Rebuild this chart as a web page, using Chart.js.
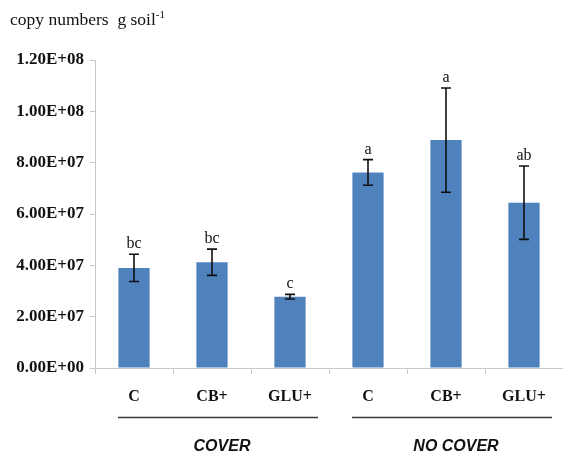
<!DOCTYPE html>
<html>
<head>
<meta charset="utf-8">
<script src="https://cdn.jsdelivr.net/npm/chart.js@4/dist/chart.umd.min.js"></script>
<style>
  html, body { margin: 0; padding: 0; background: #fff; }
  #wrap { position: relative; width: 563px; height: 455px; }
</style>
</head>
<body>
<div id="wrap"><canvas id="c" width="563" height="455"></canvas></div>
<script>
// Treatments on the x axis, grouped by soil cover
const categories = ['C', 'CB+', 'GLU+', 'C', 'CB+', 'GLU+'];
const groups = [
  { name: 'COVER', first: 0, last: 2 },
  { name: 'NO COVER', first: 3, last: 5 }
];
// Mean gene copy numbers per gram of soil and their standard errors
const copyNumbers = [3.90e7, 4.12e7, 2.78e7, 7.62e7, 8.88e7, 6.44e7];
const errors = [0.53e7, 0.51e7, 0.09e7, 0.50e7, 2.03e7, 1.43e7];
// Significance letters above each bar
const letters = ['bc', 'bc', 'c', 'a', 'a', 'ab'];
// Y axis tick labels, from 0 upwards
const yTickLabels = ['0.00E+00', '2.00E+07', '4.00E+07', '6.00E+07', '8.00E+07', '1.00E+08', '1.20E+08'];

const SERIF = '"Liberation Serif", "Times New Roman", serif';
const SANS = '"Liberation Sans", Arial, sans-serif';

const overlay = {
  id: 'overlay',
  afterDatasetsDraw(chart) {
    const ctx = chart.ctx;
    const x = chart.scales.x, y = chart.scales.y;
    ctx.save();
    // error bars and letters
    copyNumbers.forEach((v, i) => {
      const px = x.getPixelForValue(i);
      const top = y.getPixelForValue(v + errors[i]);
      const bot = y.getPixelForValue(v - errors[i]);
      ctx.strokeStyle = '#111';
      ctx.lineWidth = 1.6;
      ctx.beginPath();
      ctx.moveTo(px, top); ctx.lineTo(px, bot);
      ctx.moveTo(px - 5, top); ctx.lineTo(px + 5, top);
      ctx.moveTo(px - 5, bot); ctx.lineTo(px + 5, bot);
      ctx.stroke();
      ctx.fillStyle = '#111';
      ctx.font = '16px ' + SERIF;
      ctx.textAlign = 'center';
      ctx.textBaseline = 'alphabetic';
      ctx.fillText(letters[i], px, top - 6);
    });
    // group underlines and names
    groups.forEach(g => {
      const x0 = x.getPixelForValue(g.first) - 16;
      const x1 = x.getPixelForValue(g.last) + 28;
      ctx.strokeStyle = '#3a3a3a';
      ctx.lineWidth = 1.5;
      ctx.beginPath();
      ctx.moveTo(x0, 417.5); ctx.lineTo(x1, 417.5);
      ctx.stroke();
      ctx.fillStyle = '#111';
      ctx.font = 'italic bold 16px ' + SANS;
      ctx.textAlign = 'center';
      ctx.textBaseline = 'middle';
      ctx.fillText(g.name, (x0 + x1) / 2 + 4, 447);
    });
    // unit label
    ctx.fillStyle = '#111';
    ctx.textAlign = 'left';
    ctx.textBaseline = 'alphabetic';
    ctx.font = '17.5px ' + SERIF;
    const main = 'copy numbers  g soil';
    ctx.fillText(main, 10, 25);
    const w = ctx.measureText(main).width;
    ctx.font = '11px ' + SERIF;
    ctx.fillText('-1', 10 + w, 18);
    ctx.restore();
  }
};

new Chart(document.getElementById('c'), {
  type: 'bar',
  data: {
    labels: categories,
    datasets: [{
      data: copyNumbers,
      backgroundColor: '#4F81BD',
      borderWidth: 0,
      barPercentage: 0.4,
      categoryPercentage: 1.0
    }]
  },
  options: {
    responsive: false,
    animation: false,
    layout: { padding: { top: 60, right: 0, bottom: 0, left: 0 } },
    plugins: { legend: { display: false }, tooltip: { enabled: false }, title: { display: false } },
    scales: {
      x: {
        grid: { display: true, drawOnChartArea: false, drawTicks: true, tickLength: 6, color: '#c8c8c8', offset: true },
        border: { display: true, color: '#c8c8c8', width: 1 },
        ticks: {
          color: '#111',
          font: { family: SERIF, size: 16, weight: 'bold' },
          padding: 13,
          maxRotation: 0
        },
        afterFit(scale) { scale.height = 87; }
      },
      y: {
        min: 0,
        max: 1.2e8,
        grid: { display: true, drawOnChartArea: false, drawTicks: true, tickLength: 5, color: '#c8c8c8' },
        border: { display: true, color: '#c8c8c8', width: 1 },
        ticks: {
          stepSize: 2e7,
          color: '#111',
          font: { family: SERIF, size: 17, weight: 'bold' },
          padding: 6,
          callback: (v, i) => yTickLabels[i]
        },
        afterFit(scale) { scale.width = 95; }
      }
    }
  },
  plugins: [overlay]
});
</script>
</body>
</html>
